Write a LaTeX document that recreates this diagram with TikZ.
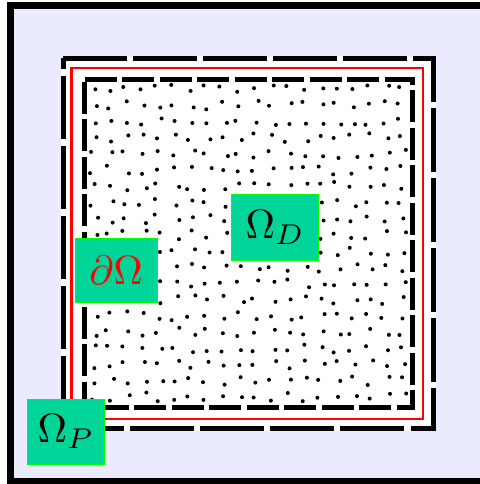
\documentclass[tikz,border=0pt]{standalone}
\usepackage{graphicx}
\usepackage{tikz}
\definecolor{lav}{RGB}{235,235,255}
\definecolor{labelfill}{RGB}{0,213,153}
\definecolor{labelrim}{RGB}{0,255,0}
\newcommand{\bigsym}[1]{\scalebox{4.1}{$#1$}}

\begin{document}
\begin{tikzpicture}[x=1bp,y=-1bp,
  frame/.style={draw=black,line width=7bp,fill=lav},
  bigdash/.style={draw=black,line width=5bp,dash pattern=on 63.5bp off 6.5bp,line join=miter},
  smalldash/.style={draw=black,line width=5bp,dash pattern=on 32bp off 5.5bp,line join=miter},
  rim/.style={draw=red,line width=2.7bp},
  lbl/.style={fill=labelfill,draw=labelrim,line width=1bp,inner sep=0pt},
  dot/.style={fill=black}]
  \useasboundingbox (0,0) rectangle (480,484);
  \clip (0,0) rectangle (480,484);

  % outer domain
  \path[frame] (10.5,6) rectangle (487,481.5);
  % interface zone
  \fill[white] (60.5,56) rectangle (436,431);

  % stippled interior
  \begin{scope}
    \clip (87,82.5) rectangle (409.5,404.5);
    \pgfmathsetseed{4242}
    \foreach \i in {0,...,19}
      \foreach \j in {0,...,19}
        \fill[dot] ({94+16.2*\i+4.5*rand},{89+16.2*\j+4.5*rand}) circle (2bp);
  \end{scope}

  % boundaries
  \coordinate (a1) at (63,58.5);   \coordinate (a2) at (433.5,58.5);
  \coordinate (a3) at (433.5,428.5); \coordinate (a4) at (63,428.5);
  \coordinate (r1) at (71.7,68);   \coordinate (r2) at (423,68);
  \coordinate (r3) at (423,419);   \coordinate (r4) at (71.7,419);
  \coordinate (b1) at (84.7,80);   \coordinate (b2) at (412,80);
  \coordinate (b3) at (412,407);   \coordinate (b4) at (84.7,407);

  \draw[smalldash] (b1) -- (b2) -- (b3) -- (b4) -- cycle;
  \draw[rim] (r1) -- (r2) -- (r3) -- (r4) -- cycle;
  \draw[bigdash] (a1) -- (a2) -- (a3) -- (a4) -- cycle;

  % labels
  \node[lbl,minimum width=87bp,minimum height=66bp] (omd) at (275.3,227.9) {\bigsym{\Omega_D}};
  \node[lbl,text=red,minimum width=82bp,minimum height=64bp] (bnd) at (116.2,270.5) {\bigsym{\partial\Omega}};
  \node[lbl,minimum width=77bp,minimum height=65bp] (omp) at (66,431.5) {\bigsym{\Omega_P}};
\end{tikzpicture}
\end{document}
